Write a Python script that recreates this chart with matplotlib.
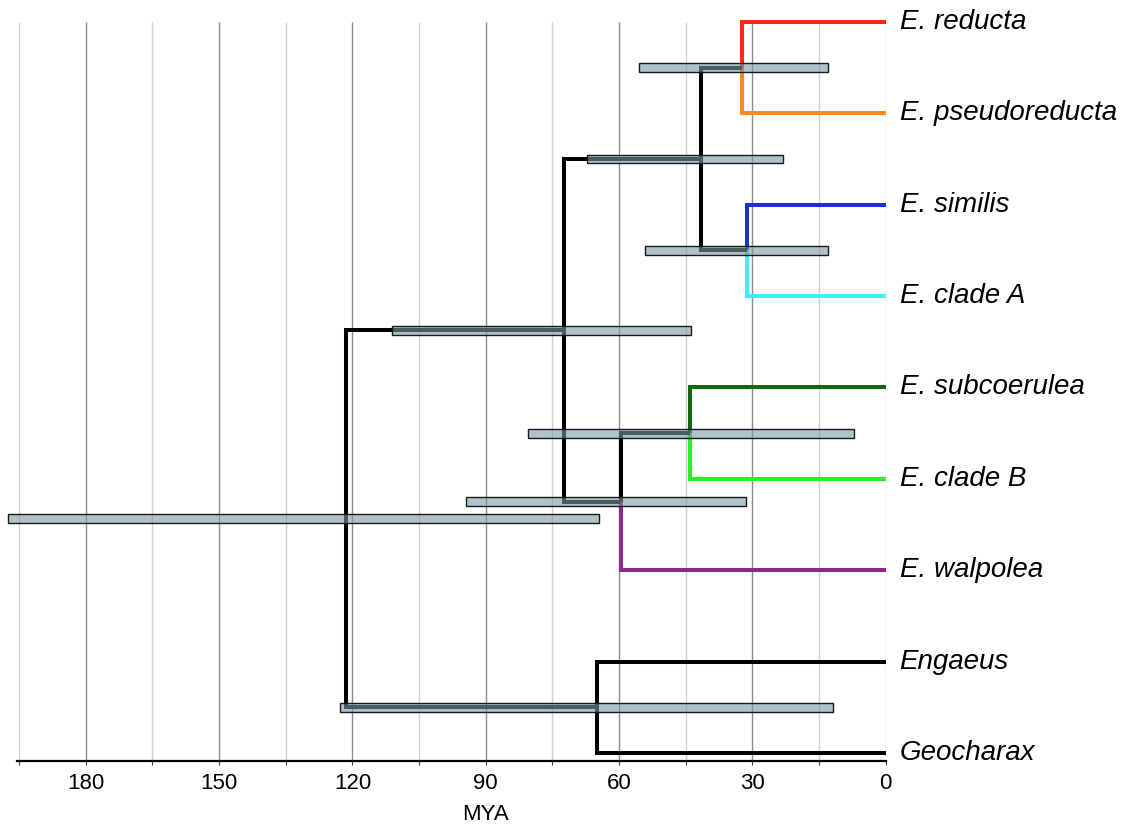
import matplotlib
matplotlib.use('Agg')
import matplotlib.pyplot as plt
from matplotlib.patches import Rectangle
from matplotlib.transforms import blended_transform_factory

# tips, top to bottom
taxa = ['E. reducta', 'E. pseudoreducta', 'E. similis', 'E. clade A',
        'E. subcoerulea', 'E. clade B', 'E. walpolea', 'Engaeus', 'Geocharax']
taxon_colors = ['#ff2a12', '#ff8a14', '#1c30d0', '#3cf0ff',
                '#0c6a0c', '#2cee2c', '#8b2a8b', 'black', 'black']

# internal nodes (children listed top to bottom), node age and 95% interval in MYA
node_ids = ['n1', 'n2', 'n3', 'n4', 'n5', 'n6', 'n7', 'root']
node_children = [['E. reducta', 'E. pseudoreducta'],
                 ['E. similis', 'E. clade A'],
                 ['n1', 'n2'],
                 ['E. subcoerulea', 'E. clade B'],
                 ['n4', 'E. walpolea'],
                 ['n3', 'n5'],
                 ['Engaeus', 'Geocharax'],
                 ['n6', 'n7']]
node_ages = [32.4, 31.1, 41.6, 44.1, 59.6, 72.5, 65.0, 121.5]
ci_old = [55.6, 54.2, 67.3, 80.4, 94.5, 111.0, 122.7, 197.4]
ci_young = [13.0, 13.0, 23.0, 7.2, 31.5, 43.9, 11.9, 64.6]

major_ticks = [180, 150, 120, 90, 60, 30]
minor_ticks = [195, 165, 135, 105, 75, 45, 15, 0]

# positions of every tip and node
ypos = {t: i for i, t in enumerate(taxa)}
age = {t: 0.0 for t in taxa}
color = dict(zip(taxa, taxon_colors))
for nid, ch, a in zip(node_ids, node_children, node_ages):
    ypos[nid] = sum(ypos[c] for c in ch) / len(ch)
    age[nid] = a

fig = plt.figure(figsize=(11.26, 8.25), dpi=100)
ax = fig.add_axes([0.0, 0.0776, 885.7 / 1126, 1 - 0.0776])
ax.set_xlim(199.3, 0)
ax.set_ylim(8.0876, -0.2408)

# vertical grid
ax.vlines(major_ticks, 0, 8.0876, colors='#8c8c8c', lw=1.0, zorder=0)
ax.vlines(minor_ticks, 0, 8.0876, colors='#cfcfcf', lw=1.0, zorder=0)

# branches
for nid in node_ids:
    for c in node_children[node_ids.index(nid)]:
        col = color.get(c, 'black')
        ax.plot([age[nid], age[nid], age[c]], [ypos[nid], ypos[c], ypos[c]],
                color=col, lw=2.9, solid_joinstyle='miter',
                solid_capstyle='butt', zorder=2)

# node age intervals
h = 0.095
for nid, lo, hi in zip(node_ids, ci_young, ci_old):
    y = ypos[nid]
    ax.add_patch(Rectangle((lo, y - h / 2), hi - lo, h,
                           facecolor=(0.48, 0.60, 0.65, 0.6),
                           edgecolor='#1a1a1a', lw=1.0, zorder=3))

# tip labels
for t in taxa:
    ax.annotate(t, xy=(0, ypos[t]), xytext=(10, 0), textcoords='offset points',
                va='center', ha='left', fontsize=20, style='italic',
                family='Liberation Sans', annotation_clip=False)

for s in ['left', 'right', 'top']:
    ax.spines[s].set_visible(False)
ax.spines['bottom'].set_linewidth(1.6)
ax.spines['bottom'].set_bounds(0, 195.5)
ax.set_yticks([])
ax.set_xticks(major_ticks + [0])
ax.set_xticklabels([str(v) for v in major_ticks + [0]], family='Liberation Sans', fontsize=16)
ax.set_xticks(minor_ticks[:-1], minor=True)
ax.tick_params(axis='x', which='both', direction='out', length=3, width=0.8,
               color='#444444', pad=6)

tr = blended_transform_factory(ax.transData, ax.transAxes)
ax.text(90, -54 / 761, 'MYA', transform=tr, ha='center', va='center',
        fontsize=16, family='Liberation Sans')

fig.savefig('out.png', dpi=100)
